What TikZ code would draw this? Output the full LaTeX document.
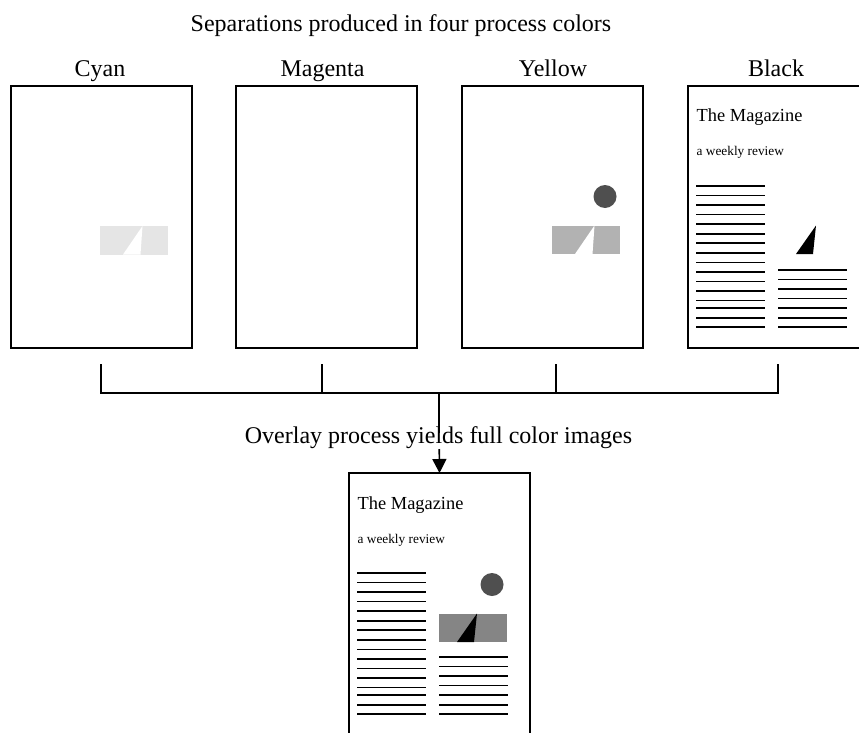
\documentclass[tikz,border=0pt]{standalone}
\usepackage{fontspec}
\setmainfont{Liberation Serif}
\usetikzlibrary{arrows.meta}
\definecolor{sepLight}{gray}{0.90}
\definecolor{sepMid}{gray}{0.70}
\definecolor{sepFull}{gray}{0.52}
\definecolor{sepDot}{gray}{0.31}
\begin{document}
\begin{tikzpicture}[x=1pt,y=-1pt,
  sheet/.style={draw, line width=2pt, fill=white, minimum width=181pt, minimum height=262pt,
    inner sep=0pt, outer sep=0pt, anchor=north west},
  lbl/.style={font=\fontsize{24}{28}\selectfont, inner sep=0pt, anchor=base},
  rulestyle/.style={line width=1.1pt},
  busline/.style={line width=1.7pt},
  imgrect/.pic={
    \fill[#1] (90,139.5) rectangle (158,168);
  },
  gapwhite/.pic={
    \fill[white] (113,168) -- (132.5,139.5) -- (130.5,168) -- cycle;
  },
  blacktri/.pic={
    \fill[black] (108,168) -- (128,139.5) -- (125,168) -- cycle;
  },
  dot/.pic={
    \fill[sepDot] (143,110.5) circle[radius=11.5];
  },
  magtext/.pic={
    \node[anchor=base west, inner sep=0pt, font=\fontsize{18.4}{22}\selectfont] (-title) at (8.5,36) {The Magazine};
    \node[anchor=base west, inner sep=0pt, font=\fontsize{13.3}{16}\selectfont] (-sub) at (8.5,70) {a weekly review};
    \foreach \yy in {100,109.5,119,128.5,138,148,157,167,176.5,186,195.5,205,214.5,222,232,241}
      \draw[rulestyle] (8,\yy) -- (77,\yy);
    \foreach \yy in {184,193.3,203,212.3,222,232,241}
      \draw[rulestyle] (90,\yy) -- (159,\yy);
  }
]
\useasboundingbox (0,0) rectangle (859,733);
\fill[white] (0,0) rectangle (859,733);
\clip (0,0) rectangle (859,733);

% title and labels
\node[lbl] (title) at (401,32) {Separations produced in four process colors};
\node[lbl] (lcyan) at (100,77) {Cyan};
\node[lbl] (lmag) at (322.5,77) {Magenta};
\node[lbl] (lyel) at (553,77) {Yellow};
\node[lbl] (lblk) at (776,77) {Black};

% separation sheets
\node[sheet] (cyan) at (11,86) {};
\node[sheet] (magenta) at (236,86) {};
\node[sheet] (yellow) at (462,86) {};
\node[sheet] (black) at (688,86) {};

% cyan content
\pic at (10,86.5) {imgrect=sepLight};
\pic at (10,86.5) {gapwhite};
% yellow content
\pic at (462,86) {dot};
\pic at (462,86) {imgrect=sepMid};
\pic at (462,86) {gapwhite};
% black content
\pic (bk) at (688,86) {magtext};
\pic at (688,86) {blacktri};

% connectors
\coordinate (t1) at (101,364);
\coordinate (t2) at (321.7,364);
\coordinate (t3) at (556,364);
\coordinate (t4) at (778,364);
\coordinate (hub) at (439.3,393);
\coordinate (drop) at (439.3,433);
\coordinate (astart) at (439.3,449);
\draw[busline] (t1) |- (hub) -| (t4);
\draw[busline] (t2) -- (t2 |- hub);
\draw[busline] (t3) -- (t3 |- hub);
\draw[busline] (hub) -- (drop);

\node[lbl] (overlay) at (438.5,443) {Overlay process yields full color images};

% final composite sheet
\node[sheet] (final) at (349,473) {};
\pic (fn) at (349,473) {magtext};
\pic at (349,474) {dot};
\pic at (349,474) {imgrect=sepFull};
\pic at (349,474) {blacktri};

\draw[busline, -{Triangle[length=14pt,width=14pt]}] (astart) -- (final.north);
\end{tikzpicture}
\end{document}
